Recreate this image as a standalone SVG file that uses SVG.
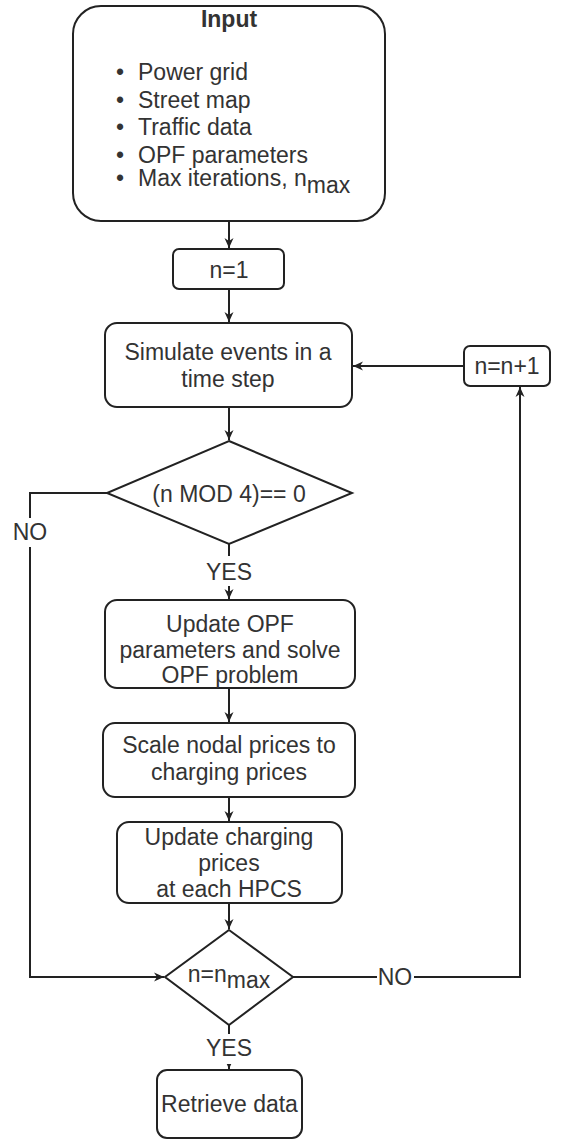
<svg xmlns="http://www.w3.org/2000/svg" width="568" height="1140" viewBox="0 0 568 1140">
<defs>
<style>
.box{fill:#fff;stroke:#222;stroke-width:2}
.t{font-family:"Liberation Sans",Arial,sans-serif;font-size:23px;fill:#333;text-anchor:middle}
.tl{font-family:"Liberation Sans",Arial,sans-serif;font-size:23px;fill:#333}
.c{fill:none;stroke:#222;stroke-width:2}
.lbl{fill:#fff}
</style>
<marker id="arr" markerUnits="userSpaceOnUse" markerWidth="12" markerHeight="12" viewBox="0 0 12 12" refX="11" refY="6" orient="auto">
<path d="M1,1.5 L11,6 L1,10.5 L4,6 Z" fill="#222"/>
</marker>
</defs>
<rect width="568" height="1140" fill="#fff"/>
<g id="connectors">
<path class="c" d="M229,221 V248" marker-end="url(#arr)"/>
<path class="c" d="M229,289 V322" marker-end="url(#arr)"/>
<path class="c" d="M229,407 V440" marker-end="url(#arr)"/>
<path class="c" d="M229,544 V599" marker-end="url(#arr)"/>
<path class="c" d="M229,688 V722" marker-end="url(#arr)"/>
<path class="c" d="M229,797 V821" marker-end="url(#arr)"/>
<path class="c" d="M229,903 V929" marker-end="url(#arr)"/>
<path class="c" d="M229,1025 V1069" marker-end="url(#arr)"/>
<path class="c" d="M107,493 H30 V977 H164" marker-end="url(#arr)"/>
<path class="c" d="M293,977 H520 V387" marker-end="url(#arr)"/>
<path class="c" d="M464,366 H353" marker-end="url(#arr)"/>
<rect class="lbl" x="206" y="556" width="46" height="30"/>
<text class="t" x="229" y="580">YES</text>
<rect class="lbl" x="206" y="1034" width="46" height="30"/>
<text class="t" x="229" y="1056">YES</text>
<rect class="lbl" x="12" y="518" width="36" height="29"/>
<text class="t" x="30" y="540">NO</text>
<rect class="lbl" x="377" y="964" width="37" height="26"/>
<text class="t" x="395" y="985">NO</text>
</g>
<g id="input">
<rect class="box" x="73" y="6" width="312" height="215" rx="28"/>
<text class="t" x="229" y="27" style="font-weight:bold">Input</text>
<text class="tl" x="116" y="80">•</text><text class="tl" x="138" y="80">Power grid</text>
<text class="tl" x="116" y="107.5">•</text><text class="tl" x="138" y="107.5">Street map</text>
<text class="tl" x="116" y="135">•</text><text class="tl" x="138" y="135">Traffic data</text>
<text class="tl" x="116" y="162.5">•</text><text class="tl" x="138" y="162.5">OPF parameters</text>
<text class="tl" x="116" y="186">•</text><text class="tl" x="138" y="186">Max iterations, n<tspan dy="7">max</tspan></text>
</g>
<g id="n1">
<rect class="box" x="173" y="249" width="111" height="40" rx="6"/>
<text class="t" x="229" y="278">n=1</text>
</g>
<g id="simulate">
<rect class="box" x="105" y="323" width="247" height="84" rx="12"/>
<text class="t" x="228" y="360">Simulate events in a</text>
<text class="t" x="228" y="387">time step</text>
</g>
<g id="mod4">
<polygon class="box" points="229,441 352,493 229,544 107,493"/>
<text class="t" x="229" y="502">(n MOD 4)== 0</text>
</g>
<g id="opf">
<rect class="box" x="105" y="600" width="250" height="88" rx="12"/>
<text class="t" x="230" y="632">Update OPF</text>
<text class="t" x="230" y="658">parameters and solve</text>
<text class="t" x="230" y="683">OPF problem</text>
</g>
<g id="scale">
<rect class="box" x="103" y="723" width="252" height="74" rx="12"/>
<text class="t" x="229" y="753">Scale nodal prices to</text>
<text class="t" x="229" y="780">charging prices</text>
</g>
<g id="charging">
<rect class="box" x="117" y="822" width="225" height="81" rx="12"/>
<text class="t" x="229" y="845">Update charging</text>
<text class="t" x="229" y="871">prices</text>
<text class="t" x="229" y="897">at each HPCS</text>
</g>
<g id="nmax">
<polygon class="box" points="229,930 293,977 229,1025 165,977"/>
<text class="t" x="229" y="982">n=n<tspan dy="6">max</tspan></text>
</g>
<g id="nplus">
<rect class="box" x="464" y="346" width="86" height="40" rx="6"/>
<text class="t" x="507" y="374">n=n+1</text>
</g>
<g id="retrieve">
<rect class="box" x="157" y="1070" width="145" height="68" rx="10"/>
<text class="t" x="229.5" y="1112">Retrieve data</text>
</g>
</svg>
